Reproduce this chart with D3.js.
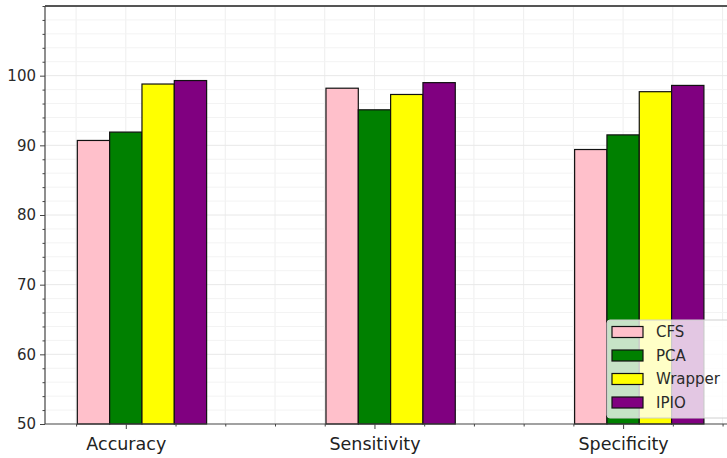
<!DOCTYPE html>
<html>
<head>
<meta charset="utf-8">
<script src="https://cdn.jsdelivr.net/npm/d3@7/dist/d3.min.js"></script>
<style>
  html, body { margin: 0; padding: 0; background: #fff; overflow: hidden; }
  svg { display: block; font-family: "DejaVu Sans", sans-serif; }
</style>
</head>
<body>
<svg id="chart" width="727" height="458"></svg>
<script>
// Metrics compared across feature selection methods
const categories = ["Accuracy", "Sensitivity", "Specificity"];
const methods = ["CFS", "PCA", "Wrapper", "IPIO"];
const colors = ["#ffc0cb", "#008000", "#ffff00", "#800080"];
const cfsValues = [90.7, 98.2, 89.4];
const pcaValues = [91.9, 95.1, 91.5];
const wrapperValues = [98.8, 97.3, 97.7];
const ipioValues = [99.3, 99.0, 98.6];
const yTicks = [50, 60, 70, 80, 90, 100];

const series = [cfsValues, pcaValues, wrapperValues, ipioValues];
const barWidth = 0.13;

const svg = d3.select("#chart");
const plotLeft = 45, plotRight = 735, plotTop = 6, plotBottom = 424;

const x = d3.scaleLinear().domain([-0.325, 2.45]).range([plotLeft, plotRight]);
const y = d3.scaleLinear().domain([50, 110]).range([plotBottom, plotTop]);

// light grid on minor and major ticks
const g = svg.append("g");
const xMinor = d3.range(-0.2, 2.45, 0.2);
g.selectAll("line.vgrid").data(xMinor).join("line")
  .attr("x1", d => x(d)).attr("x2", d => x(d))
  .attr("y1", plotTop).attr("y2", plotBottom)
  .attr("stroke", "#eeeeee").attr("stroke-width", 1);
const yMinor = d3.range(52, 110, 2).filter(v => v % 10 !== 0);
g.selectAll("line.hminor").data(yMinor).join("line")
  .attr("x1", plotLeft).attr("x2", plotRight)
  .attr("y1", d => y(d)).attr("y2", d => y(d))
  .attr("stroke", "#f3f3f3").attr("stroke-width", 1);
g.selectAll("line.hmajor").data([60, 70, 80, 90, 100]).join("line")
  .attr("x1", plotLeft).attr("x2", plotRight)
  .attr("y1", d => y(d)).attr("y2", d => y(d))
  .attr("stroke", "#e8e8e8").attr("stroke-width", 1);

// bars
series.forEach((vals, k) => {
  svg.append("g").selectAll("rect").data(vals).join("rect")
    .attr("x", (d, i) => x(i + (k - 1) * barWidth - barWidth / 2))
    .attr("width", x(barWidth) - x(0))
    .attr("y", d => y(d))
    .attr("height", d => y(50) - y(d))
    .attr("fill", colors[k])
    .attr("stroke", "#111")
    .attr("stroke-width", 1.2);
});

// axes
const yAxis = d3.axisLeft(y).tickValues(yTicks).tickSize(5).tickPadding(4);
const yg = svg.append("g").attr("transform", `translate(${plotLeft},0)`).call(yAxis);
yg.select(".domain").remove();
yg.selectAll("text").attr("font-size", 15).attr("fill", "#2a2a2a")
  .attr("font-family", "DejaVu Sans");
yg.selectAll("line").attr("stroke", "#444");
const yMinorAxis = d3.axisLeft(y).tickValues(d3.range(50, 111, 2).filter(v => v % 10 !== 0 || v === 110)).tickSize(2.5).tickFormat("");
const ymg = svg.append("g").attr("transform", `translate(${plotLeft},0)`).call(yMinorAxis);
ymg.select(".domain").remove();
ymg.selectAll("line").attr("stroke", "#444");

const xAxis = d3.axisBottom(x).tickValues([0, 1, 2]).tickFormat(i => categories[i]).tickSize(5).tickPadding(9);
const xg = svg.append("g").attr("transform", `translate(0,${plotBottom})`).call(xAxis);
xg.select(".domain").remove();
xg.selectAll("text").attr("font-size", 17.5).attr("fill", "#222")
  .attr("font-family", "DejaVu Sans");
xg.selectAll("line").attr("stroke", "#444");
const xMinorAxis = d3.axisBottom(x).tickValues(xMinor.filter(v => Math.abs(v - Math.round(v)) > 0.01)).tickSize(2.5).tickFormat("");
const xmg = svg.append("g").attr("transform", `translate(0,${plotBottom})`).call(xMinorAxis);
xmg.select(".domain").remove();
xmg.selectAll("line").attr("stroke", "#444");

// spines
svg.append("line").attr("x1", plotLeft).attr("x2", plotRight).attr("y1", plotTop).attr("y2", plotTop)
  .attr("stroke", "#555").attr("stroke-width", 2);
svg.append("line").attr("x1", plotLeft).attr("x2", plotRight).attr("y1", plotBottom).attr("y2", plotBottom)
  .attr("stroke", "#444").attr("stroke-width", 1.2);
svg.append("line").attr("x1", plotLeft).attr("x2", plotLeft).attr("y1", plotTop).attr("y2", plotBottom)
  .attr("stroke", "#444").attr("stroke-width", 1.2);

// legend
const lg = svg.append("g").attr("transform", "translate(607,320)");
lg.append("rect").attr("x", 0).attr("y", 0).attr("width", 140).attr("height", 98)
  .attr("rx", 3).attr("fill", "#fff").attr("fill-opacity", 0.78)
  .attr("stroke", "#d0d0d0").attr("stroke-width", 1);
methods.forEach((m, k) => {
  const cy = 12 + k * 23.5;
  lg.append("rect").attr("x", 5).attr("y", cy - 5.5).attr("width", 31).attr("height", 11)
    .attr("fill", colors[k]).attr("stroke", "#111").attr("stroke-width", 1.2);
  lg.append("text").attr("x", 49).attr("y", cy).attr("dy", "0.36em")
    .attr("font-size", 15).attr("fill", "#2a2a2a").text(m);
});
</script>
</body>
</html>
